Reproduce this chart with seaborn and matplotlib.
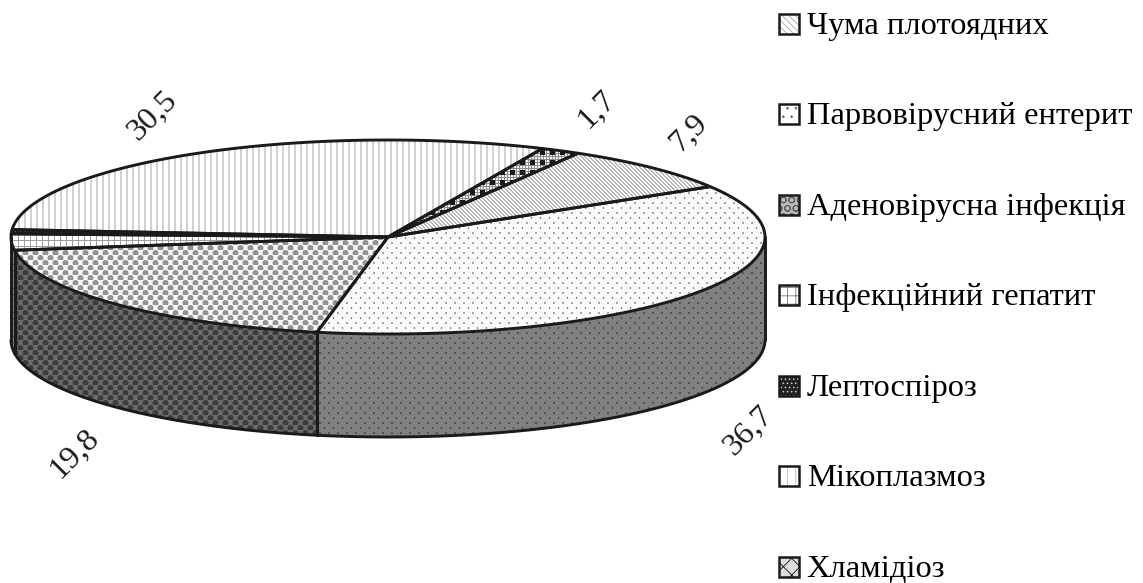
import numpy as np
import matplotlib
matplotlib.use("Agg")
import matplotlib.pyplot as plt
from matplotlib.patches import Polygon, Rectangle
from matplotlib.legend_handler import HandlerBase
import seaborn as sns

# Share of diagnosed infections, percent (legend order, clockwise on the pie)
diseases = ["Чума плотоядних", "Парвовірусний ентерит", "Аденовірусна інфекція",
            "Інфекційний гепатит", "Лептоспіроз", "Мікоплазмоз", "Хламідіоз"]
shares = [7.9, 36.7, 19.8, 2.7, 0.7, 30.5, 1.7]
value_labels = ["7,9", "36,7", "19,8", None, None, "30,5", "1,7"]

W, H = 1143, 583
CX, CY, RX, RY, DEPTH = 388, 237, 377, 97, 103
START_DEG = 59.7

sns.set_theme(style="white")
plt.rcParams["font.family"] = ["Liberation Serif", "DejaVu Serif"]
plt.rcParams["text.color"] = "black"
plt.rcParams["hatch.linewidth"] = 0.6

yy, xx = np.mgrid[0:H, 0:W]


def diagonal(period, fg, bg):
    return np.where((xx - yy) % period < 1.5, fg, bg)


def vertical(period, width, fg, bg):
    return np.where(xx % period < width, fg, bg)


def grid(period, fg, bg):
    return np.where((xx % period < 1) | (yy % period < 1), fg, bg)


def staggered(px, py, radius, fg, bg):
    # Round spots on a half-offset lattice, with a soft one-pixel rim
    u = (xx + px / 2 * ((yy // py) % 2)) % px - px / 2
    v = yy % py - py / 2
    d = np.hypot(u, v)
    return bg + (fg - bg) * np.clip(radius + 0.5 - d, 0, 1)


def checks(period, fg, mid, bg):
    img = np.where((xx % 3 == 0) | (yy % 3 == 0), mid, bg)
    cell = ((xx % period) < period / 2) & ((yy % period) < period / 2)
    return np.where(cell, fg, img)


top_fill = [
    diagonal(4, 0.72, 1.0),
    staggered(9, 5, 0.7, 0.3, 0.98),
    staggered(10, 5, 3.0, 0.58, 0.97),
    grid(6, 0.62, 1.0),
    staggered(5, 4, 0.9, 0.95, 0.15),
    vertical(6, 2, 0.82, 1.0),
    checks(10, 0.1, 0.55, 0.95),
]
wall_fill = [
    diagonal(4, 0.35, 0.5),
    staggered(9, 5, 0.7, 0.15, 0.5),
    staggered(10, 5, 3.0, 0.24, 0.42),
    grid(6, 0.3, 0.5),
    staggered(5, 4, 0.9, 0.5, 0.1),
    vertical(6, 2, 0.4, 0.5),
    checks(10, 0.05, 0.3, 0.5),
]

fig = plt.figure(figsize=(W / 100, H / 100), dpi=100)
ax = fig.add_axes([0, 0, 1, 1])
ax.set_xlim(0, W)
ax.set_ylim(H, 0)
ax.axis("off")


def rim(theta_deg, drop=0):
    t = np.radians(theta_deg)
    return np.column_stack([CX + RX * np.cos(t), CY - RY * np.sin(t) + drop])


def textured(poly, pattern, z):
    patch = Polygon(poly, closed=True, transform=ax.transData, fc="none", ec="none")
    ax.add_patch(patch)
    im = ax.imshow(pattern, cmap="gray", vmin=0, vmax=1, extent=(0, W, H, 0),
                   aspect="auto", interpolation="nearest", zorder=z)
    im.set_clip_path(patch)


edges = START_DEG - 360 * np.cumsum([0] + shares) / sum(shares)
LW = 2.1

# Side wall of the disc: only the part of each slice that faces the viewer
for i in range(len(shares)):
    hi, lo = min(edges[i], 0), max(edges[i + 1], -180)
    if hi <= lo:
        continue
    arc = np.linspace(hi, lo, 200)
    poly = np.vstack([rim(arc), rim(arc[::-1], DEPTH)])
    textured(poly, wall_fill[i], 1)
    ax.plot(*rim(arc, DEPTH).T, color="k", lw=LW, zorder=3, solid_capstyle="round")
    for a in (hi, lo):
        ax.plot(*np.vstack([rim(a), rim(a, DEPTH)]).T, color="k", lw=LW, zorder=3)

# Top face of the disc
for i in range(len(shares)):
    arc = np.linspace(edges[i], edges[i + 1], 200)
    poly = np.vstack([[CX, CY], rim(arc)])
    textured(poly, top_fill[i], 2)
    ax.add_patch(Polygon(poly, closed=True, fc="none", ec="k", lw=LW, zorder=4,
                         joinstyle="round"))

# Value labels run along the outside of the disc at a 45 degree tilt
label_xy = {"7,9": (689, 133), "36,7": (748, 431), "19,8": (74, 454),
            "30,5": (152, 116), "1,7": (597, 110)}
for text in value_labels:
    if text:
        ax.text(*label_xy[text], text, fontsize=23.4, rotation=45, color="k",
                ha="center", va="center", rotation_mode="anchor", zorder=6)


class SwatchHandler(HandlerBase):
    # Small hatched square with a heavy black frame
    def create_artists(self, legend, orig, xd, yd, width, height, fontsize, trans):
        fill = Rectangle((0, 0), 14.5, 14.5, transform=trans, fc=orig.get_facecolor(),
                         ec=orig.get_edgecolor(), hatch=orig.get_hatch(), lw=0)
        frame = Rectangle((0, 0), 14.5, 14.5, transform=trans, fc="none", ec="k", lw=1.8)
        return [fill, frame]


swatch_face = ["white", "white", "#bbbbbb", "white", "#222222", "white", "#dddddd"]
swatch_hatch_color = ["#aaaaaa", "#666666", "#555555", "#777777", "#cccccc", "#bbbbbb", "#111111"]
swatch_hatch = ["\\\\\\\\\\", "..", "OO", "++", "....", "||", "XX"]
handles = [Rectangle((0, 0), 1, 1, fc=f, ec=e, hatch=h)
           for f, e, h in zip(swatch_face, swatch_hatch_color, swatch_hatch)]
leg = ax.legend(handles, diseases, handler_map={Rectangle: SwatchHandler()},
                loc="upper left", bbox_to_anchor=(779 / W, 1 - 11 / H),
                frameon=False, fontsize=23.4, labelspacing=1.87, labelcolor="black",
                handlelength=0.64, handletextpad=0.21, borderpad=0, borderaxespad=0)
leg.set_zorder(6)

fig.savefig("out.png", dpi=100)
